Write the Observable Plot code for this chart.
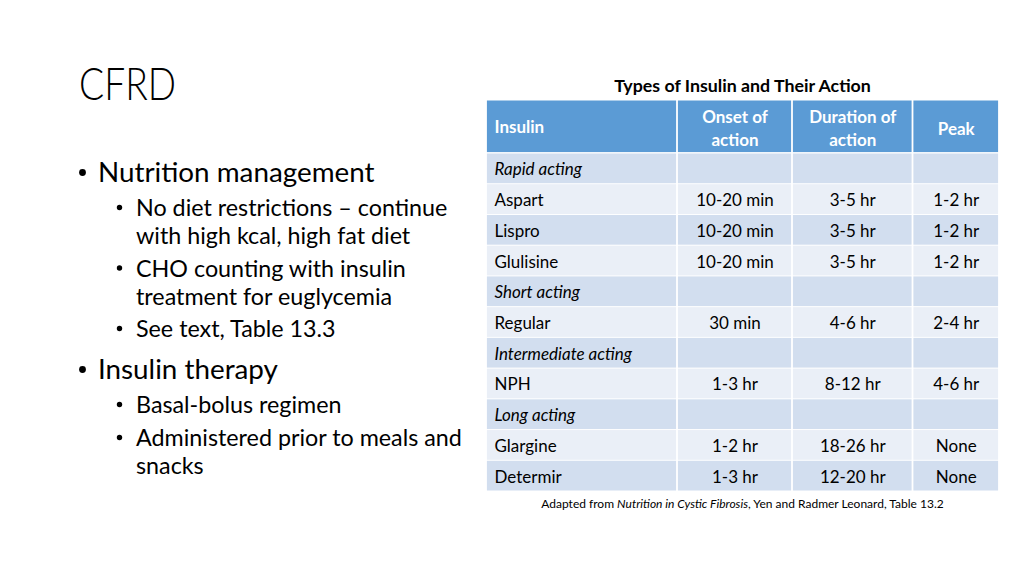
<!DOCTYPE html>
<html>
<head>
<meta charset="utf-8">
<script src="https://cdn.jsdelivr.net/npm/d3@7"></script>
<script src="https://cdn.jsdelivr.net/npm/@observablehq/plot@0.6"></script>
<style>
  html, body { margin: 0; padding: 0; background: #fff; }
  #slide { position: relative; width: 1024px; height: 576px; overflow: hidden; background: #fff; font-family: Lato, "Open Sans", sans-serif; color: #000; }
  #left { position: absolute; left: 0; top: 0; }
  #tableTitle { position: absolute; left: 487px; width: 511px; top: 75px; text-align: center; font-weight: bold; font-size: 17.8px; line-height: 20px; }
  #table { position: absolute; left: 486px; top: 100px; }
  #caption { position: absolute; left: 487px; width: 511px; top: 497px; text-align: center; font-size: 12px; line-height: 14px; }
</style>
</head>
<body>
<div id="slide">
  <svg id="left" width="480" height="576"></svg>
  <div id="tableTitle">Types of Insulin and Their Action</div>
  <div id="table"></div>
  <div id="caption">Adapted from <i>Nutrition in Cystic Fibrosis</i>, Yen and Radmer Leonard, Table 13.2</div>
</div>
<script>
// ---- data ----
const headers = ["Insulin", "Onset of\naction", "Duration of\naction", "Peak"];
const insulin = ["Rapid acting", "Aspart", "Lispro", "Glulisine", "Short acting", "Regular",
                 "Intermediate acting", "NPH", "Long acting", "Glargine", "Determir"];
const onset    = ["", "10-20 min", "10-20 min", "10-20 min", "", "30 min", "", "1-3 hr", "", "1-2 hr", "1-3 hr"];
const duration = ["", "3-5 hr", "3-5 hr", "3-5 hr", "", "4-6 hr", "", "8-12 hr", "", "18-26 hr", "12-20 hr"];
const peak     = ["", "1-2 hr", "1-2 hr", "1-2 hr", "", "2-4 hr", "", "4-6 hr", "", "None", "None"];

const slideTitle = "CFRD";
const bullets = [
  {level: 1, lines: ["Nutrition management"]},
  {level: 2, lines: ["No diet restrictions \u2013 continue", "with high kcal, high fat diet"]},
  {level: 2, lines: ["CHO counting with insulin", "treatment for euglycemia"]},
  {level: 2, lines: ["See text, Table 13.3"]},
  {level: 1, lines: ["Insulin therapy"]},
  {level: 2, lines: ["Basal-bolus regimen"]},
  {level: 2, lines: ["Administered prior to meals and", "snacks"]}
];

// ---- left text (slide body) ----
const ns = "http://www.w3.org/2000/svg";
const left = document.getElementById("left");
function addText(str, x, y, size, weight) {
  const t = document.createElementNS(ns, "text");
  t.setAttribute("x", x); t.setAttribute("y", y);
  t.setAttribute("font-family", "Lato, 'Open Sans', sans-serif");
  t.setAttribute("font-size", size);
  if (weight) t.setAttribute("font-weight", weight);
  t.setAttribute("fill", "#000");
  t.textContent = str;
  left.appendChild(t);
  return t;
}
function addDot(cx, cy, r) {
  const c = document.createElementNS(ns, "circle");
  c.setAttribute("cx", cx); c.setAttribute("cy", cy); c.setAttribute("r", r);
  c.setAttribute("fill", "#000");
  left.appendChild(c);
}
const title = addText(slideTitle, 79, 100, 45, 300);
title.setAttribute("textLength", 97);
title.setAttribute("lengthAdjust", "spacingAndGlyphs");
const lvl = {
  1: {textX: 98, dotX: 82.5, r: 3.4, size: 27.8, lineGap: 28, dotUp: 9.5},
  2: {textX: 136, dotX: 119.5, r: 2.7, size: 23.3, lineGap: 28, dotUp: 8.5}
};
const baselines = [182, 216, 276.5, 337, 379, 413, 446];
bullets.forEach((b, i) => {
  const L = lvl[b.level];
  const y0 = baselines[i];
  addDot(L.dotX, y0 - L.dotUp, L.r);
  b.lines.forEach((line, j) => addText(line, L.textX, y0 + j * L.lineGap, L.size));
});

// ---- table layout ----
const colWidths = [191, 115, 120.5, 86.5];
const edges = [0]; colWidths.forEach(w => edges.push(edges[edges.length - 1] + w));
const headerH = 53, rowH = 30.73;
const W = edges[edges.length - 1], H = headerH + rowH * insulin.length + 1;
const headerFill = "#5B9BD5", band1 = "#D2DEEF", band2 = "#EAEFF7";

const headerCells = headers.map((h, c) => ({x1: edges[c], x2: edges[c + 1], y1: 0.5, y2: headerH, fill: headerFill, label: h, col: c}));
const bodyCells = [];
insulin.forEach((name, i) => {
  const vals = [name, onset[i], duration[i], peak[i]];
  vals.forEach((v, c) => bodyCells.push({
    x1: edges[c], x2: edges[c + 1],
    y1: headerH + i * rowH, y2: headerH + (i + 1) * rowH,
    fill: i % 2 === 0 ? band1 : band2,
    label: v, col: c, category: onset[i] === ""
  }));
});

const cx = d => (d.x1 + d.x2) / 2, cy = d => (d.y1 + d.y2) / 2;
const font = "Lato, 'Open Sans', sans-serif";
const chart = Plot.plot({
  width: W, height: H, margin: 0,
  x: {type: "linear", domain: [0, W], range: [0, W], axis: null},
  y: {type: "linear", domain: [0, H], range: [0, H], axis: null},
  color: {type: "identity"},
  style: {background: "transparent"},
  marks: [
    Plot.rect(headerCells, {x1: "x1", x2: "x2", y1: "y1", y2: "y2", fill: "fill", insetLeft: 0.9, insetRight: 0.9, insetBottom: 0.9}),
    Plot.rect(bodyCells, {x1: "x1", x2: "x2", y1: "y1", y2: "y2", fill: "fill", insetLeft: 0.9, insetRight: 0.9, insetTop: 0.5, insetBottom: 0.5}),
    Plot.text(headerCells.filter(d => d.col === 0), {x: d => d.x1 + 8, y: cy, text: "label", textAnchor: "start", fill: "white", fontWeight: "bold", fontSize: 17, fontFamily: font}),
    Plot.text(headerCells.filter(d => d.col > 0), {x: cx, y: cy, text: "label", textAnchor: "middle", fill: "white", fontWeight: "bold", fontSize: 17, lineHeight: 1.35, fontFamily: font}),
    Plot.text(bodyCells.filter(d => d.col === 0 && d.category), {x: d => d.x1 + 8, y: cy, dy: 1, text: "label", textAnchor: "start", fill: "#000", fontStyle: "italic", fontSize: 17, fontFamily: font}),
    Plot.text(bodyCells.filter(d => d.col === 0 && !d.category), {x: d => d.x1 + 8, y: cy, dy: 1, text: "label", textAnchor: "start", fill: "#000", fontSize: 17, fontFamily: font}),
    Plot.text(bodyCells.filter(d => d.col > 0 && d.label !== ""), {x: cx, y: cy, dy: 1, text: "label", textAnchor: "middle", fill: "#000", fontSize: 17, fontFamily: font})
  ]
});
document.getElementById("table").appendChild(chart);
</script>
</body>
</html>
